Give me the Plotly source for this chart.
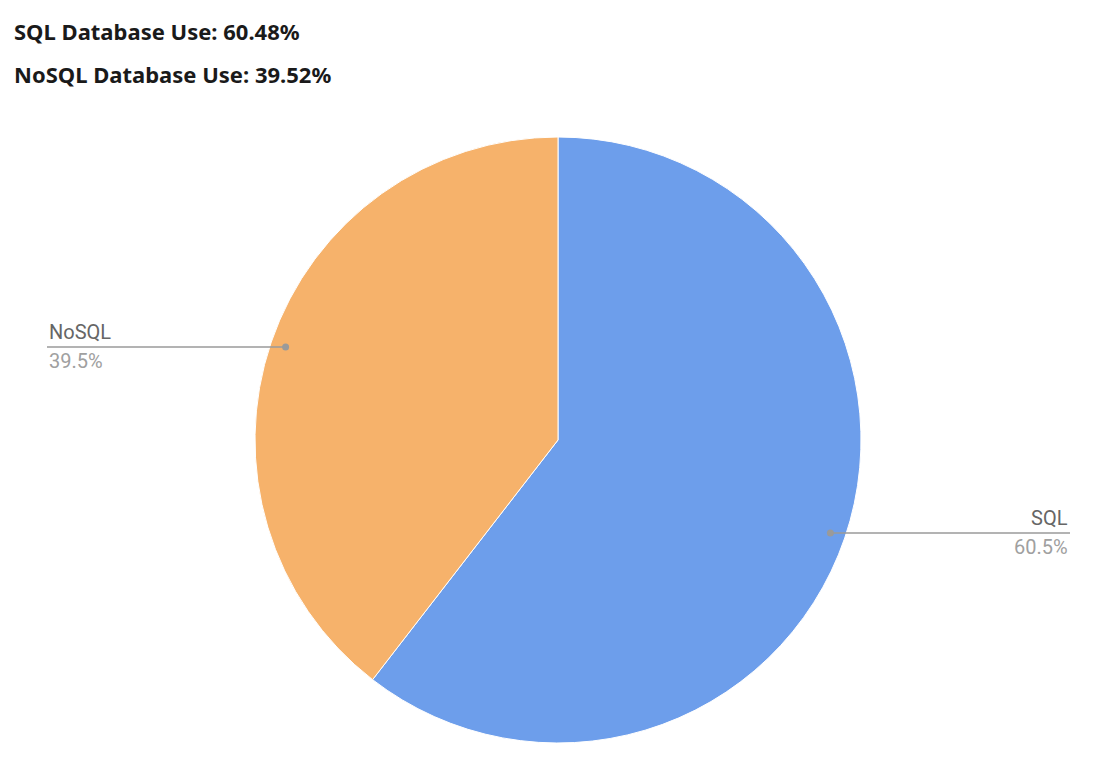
import math
import plotly.graph_objects as go

labels = ["SQL", "NoSQL"]
values = [60.48, 39.52]
colors = ["#6D9EEB", "#F6B26B"]
title_lines = ["SQL Database Use: 60.48%", "NoSQL Database Use: 39.52%"]

# page offset of the plot div (browser body margin)
OFF = 8
W, H = 1098, 750
cx, cy, R = 558 - OFF, 440 - OFF, 303

fig = go.Figure(go.Pie(
    labels=labels, values=values, sort=False, direction="clockwise", rotation=0,
    marker=dict(colors=colors, line=dict(color="white", width=1)),
    textinfo="none", hoverinfo="label+percent", showlegend=False,
    domain=dict(x=[(cx - R) / W, (cx + R) / W], y=[1 - (cy + R) / H, 1 - (cy - R) / H]),
))

total = sum(values)
start = 0.0
shapes = []
annotations = []
for lab, v in zip(labels, values):
    frac = v / total
    mid = (start + frac / 2) * 2 * math.pi
    start += frac
    px = cx + 0.95 * R * math.sin(mid)
    py = cy - 0.95 * R * math.cos(mid)
    right = math.sin(mid) > 0
    ex = (1070 if right else 47) - OFF
    shapes.append(dict(type="line", xref="paper", yref="paper",
                       x0=px / W, x1=ex / W, y0=1 - py / H, y1=1 - py / H,
                       line=dict(color="#9a9a9a", width=1.5)))
    shapes.append(dict(type="circle", xref="paper", yref="paper",
                       x0=(px - 3.5) / W, x1=(px + 3.5) / W,
                       y0=1 - (py + 3.5) / H, y1=1 - (py - 3.5) / H,
                       fillcolor="#9a9a9a", line=dict(width=0)))
    anchor = "right" if right else "left"
    annotations.append(dict(xref="paper", yref="paper", x=ex / W, y=1 - (py - 1) / H,
                            text=lab, showarrow=False, xanchor=anchor, yanchor="bottom",
                            font=dict(family="Roboto", size=20, color="#666666")))
    annotations.append(dict(xref="paper", yref="paper", x=ex / W, y=1 - (py + 0) / H,
                            text=f"{v:.1f}%", showarrow=False, xanchor=anchor, yanchor="top",
                            font=dict(family="Roboto", size=20, color="#a0a0a0")))

for i, t in enumerate(title_lines):
    annotations.append(dict(xref="paper", yref="paper", x=(12 - OFF) / W,
                            y=1 - (31 + 43 * i - OFF) / H,
                            text=f"<b>{t}</b>", showarrow=False, xanchor="left", yanchor="middle",
                            font=dict(family="Noto Sans", size=22, color="#1a1a1a")))

fig.update_layout(width=W, height=H, margin=dict(l=0, r=0, t=0, b=0),
                  paper_bgcolor="white", plot_bgcolor="white",
                  shapes=shapes, annotations=annotations)
fig.write_html("out.html")
